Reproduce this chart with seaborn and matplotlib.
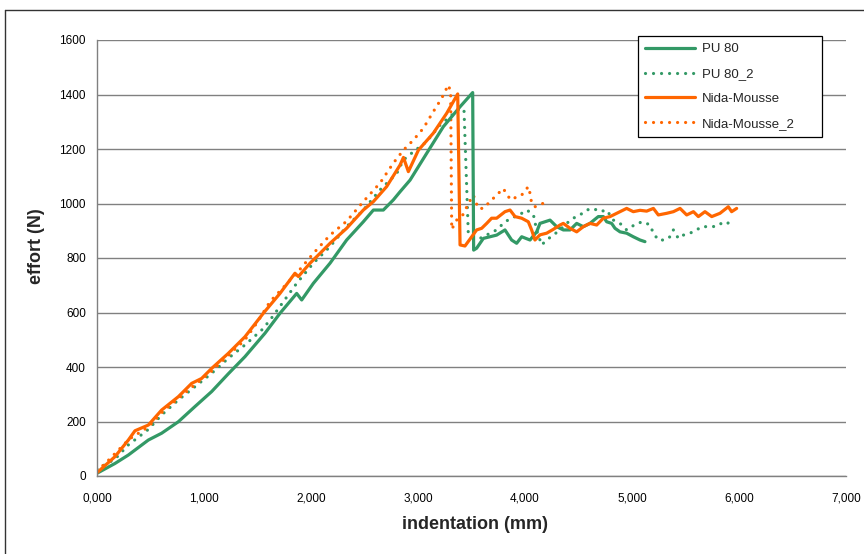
import matplotlib
matplotlib.use("Agg")
import matplotlib.pyplot as plt
import seaborn as sns
import pandas as pd
from matplotlib.lines import Line2D

# ---------------- data ----------------
pu80_x = [0, 168, 293, 480, 604, 760, 916, 1072, 1227, 1383, 1570, 1710, 1866, 1913, 2022,
          2178, 2333, 2489, 2583, 2676, 2769, 2832, 2926, 3081, 3237, 3393, 3511, 3520,
          3548, 3611, 3735, 3813, 3875, 3922, 3969, 4047, 4109, 4140, 4234, 4296, 4358,
          4421, 4483, 4545, 4607, 4685, 4732, 4763, 4810, 4841, 4888, 4950, 5012, 5075, 5121]
pu80_y = [10, 46, 77, 132, 157, 199, 255, 310, 375, 438, 524, 597, 670, 646, 707,
          781, 866, 933, 976, 976, 1013, 1043, 1086, 1184, 1282, 1355, 1407, 829,
          836, 872, 884, 903, 866, 854, 878, 866, 896, 927, 939, 915, 903,
          903, 927, 915, 927, 952, 952, 933, 927, 909, 896, 891, 878, 866, 860]

pu80_2_x = [0, 168, 293, 480, 604, 760, 916, 1072, 1227, 1383, 1540, 1617, 1866, 2022, 2178,
            2333, 2489, 2645, 2801, 2864, 2957, 3081, 3206, 3299, 3393, 3430, 3470, 3533,
            3579, 3735, 3813, 3875, 3969, 4016, 4078, 4110, 4156, 4202, 4264, 4327, 4389,
            4451, 4514, 4576, 4638, 4700, 4763, 4826, 4888, 4950, 5044, 5106, 5168, 5200,
            5246, 5309, 5355, 5387, 5433, 5480, 5542, 5604, 5651, 5698, 5760, 5822, 5869,
            5916, 5947]
pu80_2_y = [25, 62, 114, 171, 224, 279, 328, 377, 432, 481, 536, 572, 707, 781, 842,
            915, 976, 1050, 1110, 1160, 1190, 1227, 1288, 1319, 1349, 1343, 891, 872,
            872, 903, 933, 946, 964, 976, 960, 900, 848, 866, 884, 903, 927,
            946, 958, 976, 982, 970, 976, 939, 927, 903, 927, 933, 921, 891,
            866, 866, 878, 903, 872, 884, 891, 903, 915, 915, 915, 927, 921,
            933, 927]

nida_x = [0, 168, 293, 355, 480, 604, 760, 885, 978, 1072, 1227, 1383, 1554, 1710, 1850,
          1882, 1991, 2084, 2178, 2333, 2489, 2583, 2707, 2832, 2864, 2910, 3004, 3143,
          3268, 3371, 3393, 3439, 3502, 3548, 3595, 3642, 3688, 3735, 3813, 3860, 3907,
          3969, 4031, 4062, 4093, 4140, 4202, 4264, 4327, 4358, 4421, 4483, 4545, 4607,
          4670, 4732, 4795, 4857, 4950, 5012, 5075, 5137, 5200, 5246, 5324, 5387, 5449,
          5511, 5574, 5620, 5682, 5745, 5822, 5900, 5931, 5978]
nida_y = [12, 71, 132, 166, 187, 242, 291, 340, 358, 395, 450, 511, 597, 670, 744,
          732, 781, 817, 854, 909, 976, 1007, 1062, 1141, 1169, 1117, 1196, 1258,
          1331, 1402, 848, 844, 878, 903, 909, 927, 946, 946, 970, 976, 952,
          946, 933, 903, 866, 885, 891, 905, 921, 927, 909, 896, 915, 927,
          921, 946, 952, 964, 982, 970, 975, 972, 982, 958, 964, 970, 982,
          958, 970, 952, 970, 952, 964, 988, 970, 982]

nida_2_x = [0, 100, 200, 300, 480, 604, 760, 916, 1072, 1227, 1383, 1500, 1617, 1866, 2022,
            2178, 2333, 2489, 2645, 2769, 2864, 2957, 3050, 3143, 3221, 3283, 3305, 3315,
            3361, 3423, 3470, 3517, 3563, 3611, 3673, 3735, 3797, 3844, 3875, 3922, 3969,
            4031, 4047, 4062, 4093, 4140, 4202]
nida_2_y = [18, 55, 95, 135, 180, 232, 285, 335, 385, 442, 500, 565, 640, 744, 817,
            884, 935, 1007, 1075, 1148, 1196, 1233, 1276, 1337, 1386, 1435, 1410, 905,
            939, 960, 1000, 1031, 982, 982, 1007, 1031, 1055, 1025, 1013, 1025, 1031,
            1062, 1037, 1001, 988, 995, 1007]

x_ticks = [0, 1000, 2000, 3000, 4000, 5000, 6000, 7000]
x_tick_labels = ["0,000", "1,000", "2,000", "3,000", "4,000", "5,000", "6,000", "7,000"]
y_ticks = [0, 200, 400, 600, 800, 1000, 1200, 1400, 1600]

# ---------------- style ----------------
sns.set_theme(style="white")
plt.rcParams["font.family"] = ["Liberation Sans", "DejaVu Sans"]

GREEN = "#339966"
ORANGE = "#FF6600"
LW = 2.3
DOT = (0, (0.01, 2.5))

fig = plt.figure(figsize=(8.64, 5.54), dpi=100)
ax = fig.add_axes([97 / 864, 1 - 476 / 554, 749 / 864, 436 / 554])

series = [
    ("PU 80", pu80_x, pu80_y, GREEN, "-"),
    ("PU 80_2", pu80_2_x, pu80_2_y, GREEN, DOT),
    ("Nida-Mousse", nida_x, nida_y, ORANGE, "-"),
    ("Nida-Mousse_2", nida_2_x, nida_2_y, ORANGE, DOT),
]

# draw order: dotted underneath
for name, xs, ys, col, ls in [series[1], series[3], series[0], series[2]]:
    df = pd.DataFrame({"x": xs, "y": ys})
    sns.lineplot(data=df, x="x", y="y", ax=ax, sort=False, estimator=None,
                 color=col, linewidth=LW, linestyle=ls,
                 dash_capstyle="round", solid_capstyle="round", solid_joinstyle="round")

ax.set_xlim(0, 7000)
ax.set_ylim(0, 1600)
ax.set_xticks(x_ticks)
ax.set_xticklabels(x_tick_labels)
ax.set_yticks(y_ticks)

ax.grid(axis="y", color="#808080", linewidth=1.0)
ax.grid(axis="x", visible=False)
ax.set_axisbelow(True)
for s in ["top", "right"]:
    ax.spines[s].set_visible(False)
for s in ["left", "bottom"]:
    ax.spines[s].set_color("#808080")
    ax.spines[s].set_linewidth(1.0)

ax.tick_params(axis="both", which="major", direction="out", length=4, width=1,
               color="#808080", labelsize=8.5, labelcolor="black", pad=4)
ax.tick_params(axis="x", length=5, pad=7)

ax.set_xlabel("indentation (mm)", fontsize=13, fontweight="bold")
ax.set_ylabel("effort (N)", fontsize=13, fontweight="bold")
ax.xaxis.set_label_coords((475 - 97) / 749, -(516 - 476) / 436)
ax.yaxis.set_label_coords(-(97 - 45) / 749, (476 - 246) / 436)

handles = [Line2D([0], [0], color=c, linewidth=LW, linestyle=ls, dash_capstyle="round")
           for _, _, _, c, ls in series]
labels = [s[0] for s in series]
lx0 = (638 - 97) / 749
lw_ = (822 - 638) / 749
ly1 = (476 - 36) / 436
ly0 = (476 - 138) / 436
leg = ax.legend(handles, labels, loc="upper left",
                bbox_to_anchor=(lx0, ly0, lw_, ly1 - ly0), mode="expand",
                borderaxespad=0, frameon=True, fancybox=False, framealpha=1,
                edgecolor="black", fontsize=9.5, handlelength=3.8, labelspacing=0.95,
                borderpad=0.55, handletextpad=0.5)
leg.get_frame().set_linewidth(0.9)

# outer chart border
fig.add_artist(Line2D([5 / 864, 5 / 864], [0, 1 - 10 / 554], transform=fig.transFigure,
                      color="#333333", linewidth=1.0))
fig.add_artist(Line2D([5 / 864, 1], [1 - 10 / 554, 1 - 10 / 554], transform=fig.transFigure,
                      color="#333333", linewidth=1.0))

fig.savefig("out.png", dpi=100)
